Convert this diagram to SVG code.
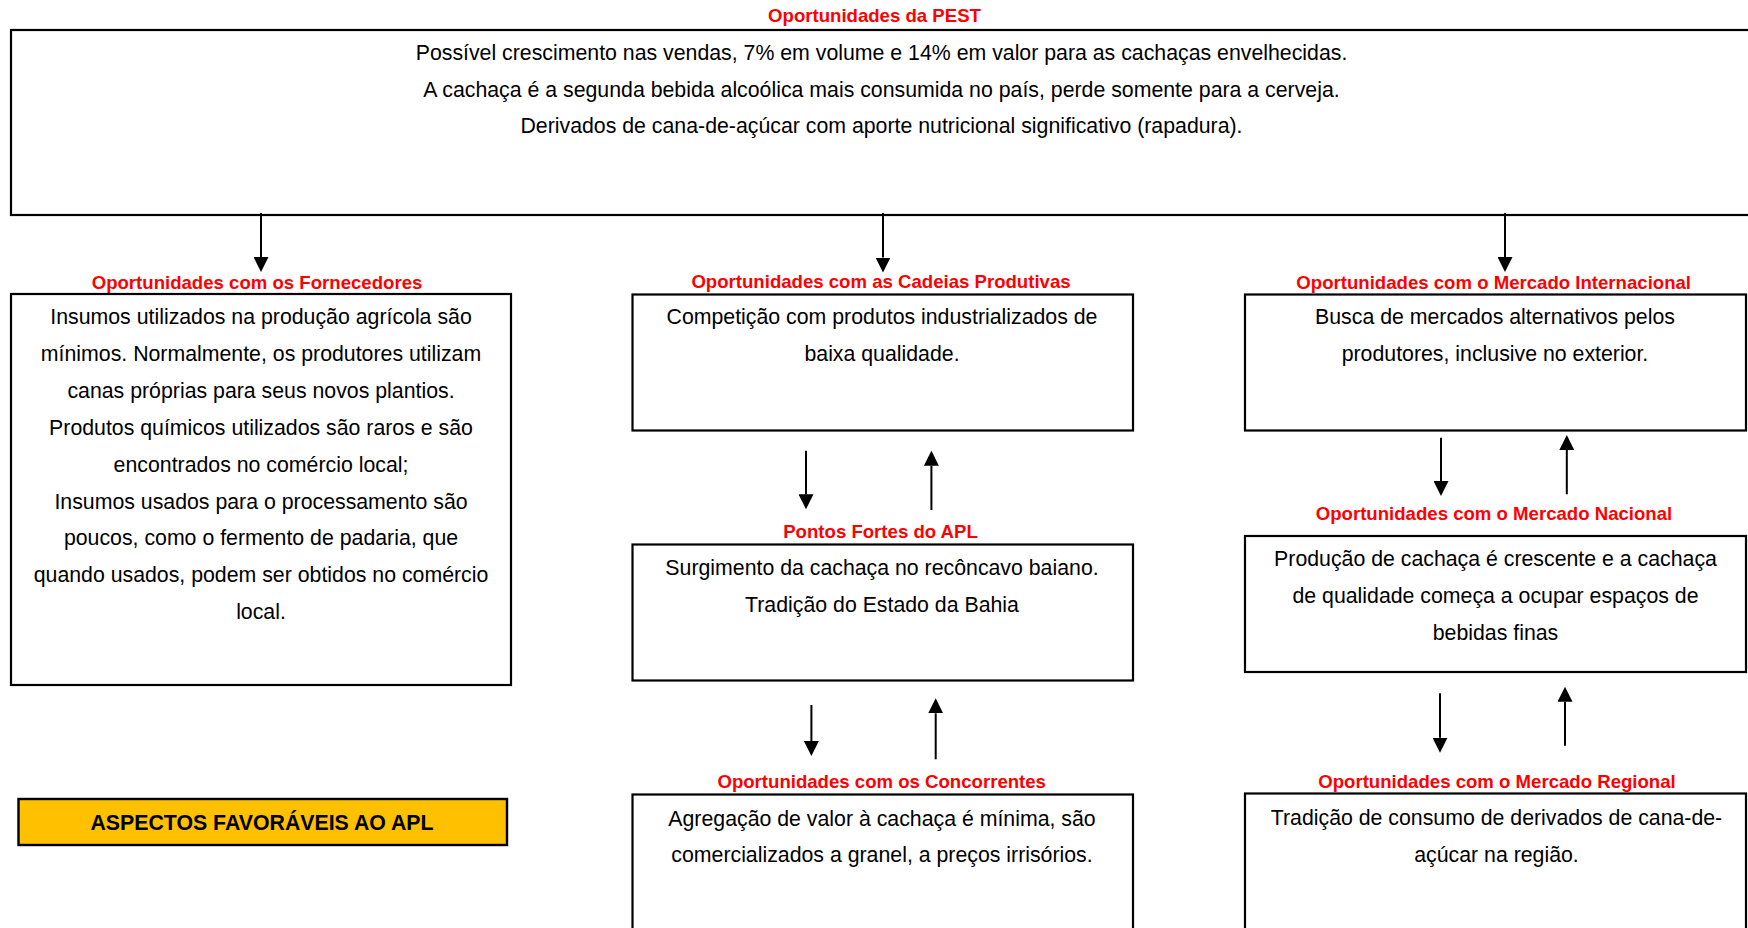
<svg xmlns="http://www.w3.org/2000/svg" width="1748" height="928" viewBox="0 0 1748 928">
  <defs>
    <style>
      .box { fill: #ffffff; stroke: #000000; stroke-width: 2.2; }
      .body { font-family: "Liberation Sans", Arial, sans-serif; font-size: 21.3px; fill: #000000; text-anchor: middle; }
      .label { font-family: "Liberation Sans", Arial, sans-serif; font-size: 18.6px; font-weight: bold; fill: #ff0000; text-anchor: middle; }
      .banner { fill: #ffc000; stroke: #000000; stroke-width: 2.4; }
      .banner-text { font-family: "Liberation Sans", Arial, sans-serif; font-size: 21.3px; font-weight: bold; fill: #000000; text-anchor: middle; }
      .link { stroke: #000000; stroke-width: 2; fill: none; marker-end: url(#head); }
    </style>
    <marker id="head" viewBox="0 0 15 15" refX="0" refY="7.5" markerWidth="15" markerHeight="15" markerUnits="userSpaceOnUse" orient="auto">
      <path d="M0,0 L15,7.5 L0,15 z" fill="#000000"/>
    </marker>
  </defs>

  <rect width="1748" height="928" fill="#ffffff"/>

  <!-- PEST -->
  <g id="pest">
    <text class="label" x="874.5" y="21.7">Oportunidades da PEST</text>
    <rect class="box" x="11" y="30" width="1742" height="185"/>
    <text class="body" x="881.5" y="60">Possível crescimento nas vendas, 7% em volume e 14% em valor para as cachaças envelhecidas.</text>
    <text class="body" x="881.5" y="96.7">A cachaça é a segunda bebida alcoólica mais consumida no país, perde somente para a cerveja.</text>
    <text class="body" x="881.5" y="133.3">Derivados de cana-de-açúcar com aporte nutricional significativo (rapadura).</text>
  </g>

  <!-- Fornecedores -->
  <g id="fornecedores">
    <text class="label" x="257" y="289">Oportunidades com os Fornecedores</text>
    <rect class="box" x="11" y="294" width="500" height="391"/>
    <text class="body" x="261" y="324">Insumos utilizados na produção agrícola são</text>
    <text class="body" x="261" y="361">mínimos. Normalmente, os produtores utilizam</text>
    <text class="body" x="261" y="398">canas próprias para seus novos plantios.</text>
    <text class="body" x="261" y="434.5">Produtos químicos utilizados são raros e são</text>
    <text class="body" x="261" y="471.5">encontrados no comércio local;</text>
    <text class="body" x="261" y="508.5">Insumos usados para o processamento são</text>
    <text class="body" x="261" y="545">poucos, como o fermento de padaria, que</text>
    <text class="body" x="261" y="582">quando usados, podem ser obtidos no comércio</text>
    <text class="body" x="261" y="619">local.</text>
  </g>

  <!-- Cadeias Produtivas -->
  <g id="cadeias">
    <text class="label" x="881" y="287.8">Oportunidades com as Cadeias Produtivas</text>
    <rect class="box" x="632.5" y="294.5" width="500.5" height="136"/>
    <text class="body" x="882" y="324.3">Competição com produtos industrializados de</text>
    <text class="body" x="882" y="361">baixa qualidade.</text>
  </g>

  <!-- Pontos Fortes -->
  <g id="pontos-fortes">
    <text class="label" x="880.5" y="538.3">Pontos Fortes do APL</text>
    <rect class="box" x="632.5" y="544.5" width="500.5" height="136"/>
    <text class="body" x="882" y="575">Surgimento da cachaça no recôncavo baiano.</text>
    <text class="body" x="882" y="611.7">Tradição do Estado da Bahia</text>
  </g>

  <!-- Concorrentes -->
  <g id="concorrentes">
    <text class="label" x="881.7" y="787.5">Oportunidades com os Concorrentes</text>
    <rect class="box" x="632.5" y="794.5" width="500.5" height="150"/>
    <text class="body" x="882" y="825.7">Agregação de valor à cachaça é mínima, são</text>
    <text class="body" x="882" y="862.3">comercializados a granel, a preços irrisórios.</text>
  </g>

  <!-- Mercado Internacional -->
  <g id="internacional">
    <text class="label" x="1493.7" y="289">Oportunidades com o Mercado Internacional</text>
    <rect class="box" x="1245" y="294.5" width="501" height="136"/>
    <text class="body" x="1495" y="324.3">Busca de mercados alternativos pelos</text>
    <text class="body" x="1495" y="361">produtores, inclusive no exterior.</text>
  </g>

  <!-- Mercado Nacional -->
  <g id="nacional">
    <text class="label" x="1494" y="520">Oportunidades com o Mercado Nacional</text>
    <rect class="box" x="1245" y="536" width="501" height="136"/>
    <text class="body" x="1495.5" y="566">Produção de cachaça é crescente e a cachaça</text>
    <text class="body" x="1495.5" y="602.7">de qualidade começa a ocupar espaços de</text>
    <text class="body" x="1495.5" y="640">bebidas finas</text>
  </g>

  <!-- Mercado Regional -->
  <g id="regional">
    <text class="label" x="1497" y="788.3">Oportunidades com o Mercado Regional</text>
    <rect class="box" x="1245" y="793.5" width="501" height="150"/>
    <text class="body" x="1496.5" y="825">Tradição de consumo de derivados de cana-de-</text>
    <text class="body" x="1496.5" y="861.7">açúcar na região.</text>
  </g>

  <!-- Banner -->
  <g id="aspectos">
    <rect class="banner" x="18.5" y="799" width="488.5" height="46"/>
    <text class="banner-text" x="262" y="829.5">ASPECTOS FAVORÁVEIS AO APL</text>
  </g>

  <!-- Connectors -->
  <g id="connectors">
    <line class="link" x1="261" y1="213" x2="261" y2="257"/>
    <line class="link" x1="883" y1="213" x2="883" y2="257.5"/>
    <line class="link" x1="1505" y1="213" x2="1505" y2="257"/>

    <line class="link" x1="806" y1="450.7" x2="806" y2="494.3"/>
    <line class="link" x1="931.4" y1="510" x2="931.4" y2="465.7"/>

    <line class="link" x1="811.4" y1="705" x2="811.4" y2="741"/>
    <line class="link" x1="935.7" y1="759.3" x2="935.7" y2="713.3"/>

    <line class="link" x1="1441" y1="437.7" x2="1441" y2="481"/>
    <line class="link" x1="1566.8" y1="494.3" x2="1566.8" y2="450"/>

    <line class="link" x1="1440" y1="693.3" x2="1440" y2="737.7"/>
    <line class="link" x1="1565" y1="745.7" x2="1565" y2="701.7"/>
  </g>
</svg>
